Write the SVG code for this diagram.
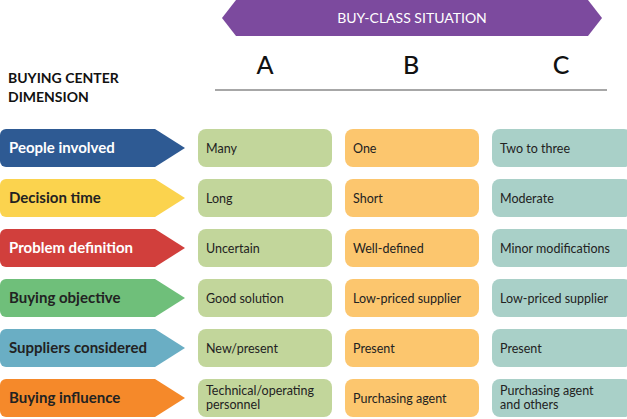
<svg xmlns="http://www.w3.org/2000/svg" width="627" height="419" viewBox="0 0 627 419">
<style>
text{font-family:"Lato","Liberation Sans",sans-serif}
.lab{font-size:15px;font-weight:bold}
.cell{font-size:12.5px;fill:#222}
.a{fill:#c2d69b}.b{fill:#fcc66e}.c{fill:#a9d0c8}
.hdr{font-size:25px;font-weight:500;fill:#111;text-anchor:middle}
</style>
<rect width="627" height="419" fill="#fff"/>
<g id="banner"><polygon points="236,0 588,0 602,18 588,36 236,36 222,18" fill="#7c4a9e"/><text x="412" y="23" font-size="14" fill="#fff" text-anchor="middle">BUY-CLASS SITUATION</text></g>
<g id="cols"><text class="hdr" x="265" y="74">A</text><text class="hdr" x="411" y="74">B</text><text class="hdr" x="561" y="74">C</text>
<line x1="215" y1="90" x2="607" y2="90" stroke="#8a8a8a" stroke-width="1.5"/></g>
<g id="dimhdr"><text x="8" y="83" font-size="14" font-weight="bold" fill="#111">BUYING CENTER</text><text x="8" y="102" font-size="14" font-weight="bold" fill="#111">DIMENSION</text></g>
<g id="row1"><path d="M6,129 H155 L185,148 L155,167 H6 A6,6 0 0 1 0,161 V135 A6,6 0 0 1 6,129Z" fill="#2e5a93"/><text class="lab" x="9" y="153" fill="#fff">People involved</text>
<rect class="a" x="198" y="129" width="134" height="38" rx="8"/><text class="cell" x="206" y="153">Many</text>
<rect class="b" x="345" y="129" width="134" height="38" rx="8"/><text class="cell" x="353" y="153">One</text>
<rect class="c" x="492" y="129" width="140" height="38" rx="8"/><text class="cell" x="500" y="153">Two to three</text></g>
<g id="row2"><path d="M6,179 H155 L185,198 L155,217 H6 A6,6 0 0 1 0,211 V185 A6,6 0 0 1 6,179Z" fill="#fbd34e"/><text class="lab" x="9" y="203" fill="#222">Decision time</text>
<rect class="a" x="198" y="179" width="134" height="38" rx="8"/><text class="cell" x="206" y="203">Long</text>
<rect class="b" x="345" y="179" width="134" height="38" rx="8"/><text class="cell" x="353" y="203">Short</text>
<rect class="c" x="492" y="179" width="140" height="38" rx="8"/><text class="cell" x="500" y="203">Moderate</text></g>
<g id="row3"><path d="M6,229 H155 L185,248 L155,267 H6 A6,6 0 0 1 0,261 V235 A6,6 0 0 1 6,229Z" fill="#d13f3c"/><text class="lab" x="9" y="253" fill="#fff">Problem definition</text>
<rect class="a" x="198" y="229" width="134" height="38" rx="8"/><text class="cell" x="206" y="253">Uncertain</text>
<rect class="b" x="345" y="229" width="134" height="38" rx="8"/><text class="cell" x="353" y="253">Well-defined</text>
<rect class="c" x="492" y="229" width="140" height="38" rx="8"/><text class="cell" x="500" y="253">Minor modifications</text></g>
<g id="row4"><path d="M6,279 H155 L185,298 L155,317 H6 A6,6 0 0 1 0,311 V285 A6,6 0 0 1 6,279Z" fill="#6fbf7a"/><text class="lab" x="9" y="303" fill="#222">Buying objective</text>
<rect class="a" x="198" y="279" width="134" height="38" rx="8"/><text class="cell" x="206" y="303">Good solution</text>
<rect class="b" x="345" y="279" width="134" height="38" rx="8"/><text class="cell" x="353" y="303">Low-priced supplier</text>
<rect class="c" x="492" y="279" width="140" height="38" rx="8"/><text class="cell" x="500" y="303">Low-priced supplier</text></g>
<g id="row5"><path d="M6,329 H155 L185,348 L155,367 H6 A6,6 0 0 1 0,361 V335 A6,6 0 0 1 6,329Z" fill="#6aaec4"/><text class="lab" x="9" y="353" fill="#222">Suppliers considered</text>
<rect class="a" x="198" y="329" width="134" height="38" rx="8"/><text class="cell" x="206" y="353">New/present</text>
<rect class="b" x="345" y="329" width="134" height="38" rx="8"/><text class="cell" x="353" y="353">Present</text>
<rect class="c" x="492" y="329" width="140" height="38" rx="8"/><text class="cell" x="500" y="353">Present</text></g>
<g id="row6"><path d="M6,379 H155 L185,398 L155,417 H6 A6,6 0 0 1 0,411 V385 A6,6 0 0 1 6,379Z" fill="#f5892a"/><text class="lab" x="9" y="403" fill="#222">Buying influence</text>
<rect class="a" x="198" y="379" width="134" height="38" rx="8"/><text class="cell" x="206" y="395">Technical/operating</text><text class="cell" x="206" y="409">personnel</text>
<rect class="b" x="345" y="379" width="134" height="38" rx="8"/><text class="cell" x="353" y="403">Purchasing agent</text>
<rect class="c" x="492" y="379" width="140" height="38" rx="8"/><text class="cell" x="500" y="395">Purchasing agent</text><text class="cell" x="500" y="409">and others</text></g>
</svg>
